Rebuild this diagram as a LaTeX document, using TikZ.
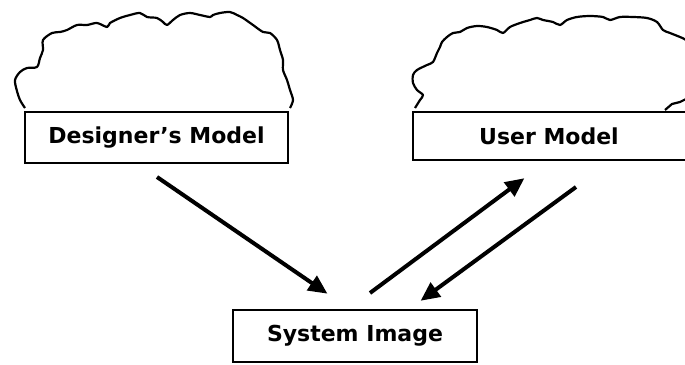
\documentclass[tikz,border=0pt]{standalone}
\usepackage{fontspec}
\setmainfont{DejaVu Sans}
\usetikzlibrary{arrows.meta}
\tikzset{
  modelfont/.style={font=\fontsize{22}{26}\selectfont\bfseries},
  modelbox/.style={draw, line width=2.4pt, fill=white, inner sep=0pt, modelfont},
  cloudline/.style={line width=2.2pt, line join=round},
  bigarrow/.style={line width=4pt, -{Triangle[length=19pt,width=17pt]}, shorten >=-3pt}
}
\begin{document}
\begin{tikzpicture}[x=1pt,y=-1pt]
\useasboundingbox (0,0) rectangle (685,364);
% clouds
\draw[cloudline] plot[smooth, tension=0.5] coordinates {
 (25,108) (20,100) (16.7,90) (15,80) (20,72) (27,68) (37,67) (40,58) (43,50) (43,40) (52,33) (60,32) (67,30) (77,25) (87,25) (97,23) (107,27) (110,23) (120,18) (130,15) (140,13) (147,17) (157,18) (163,22) (167,25) (173,20) (180,15) (190,13) (200,15) (210,17) (213,15) (220,13) (230,12) (237,15) (243,18) (253,25) (263,32) (270,33) (277,40) (280,50) (283,60) (283,70) (287,80) (290,90) (293,100) (290,108)};
\draw[cloudline] plot[smooth, tension=0.5] coordinates {
 (415,108) (420,100) (423,95) (417,90) (413,83) (413,75) (417,70) (427,65) (433,62) (437,53) (440,47) (442,42) (447,37) (453,33) (460,32) (467,28) (477,26) (487,27) (497,30) (503,33) (510,27) (520,23) (530,20) (537,18) (543,20) (553,22) (560,25) (567,20) (577,17) (590,16) (603,17) (610,20) (620,17) (633,17) (647,18) (657,22) (663,30) (670,33) (680,37) (686,40) (690,45)};
\draw[cloudline] (665,110) -- (672,104) -- (680,102) -- (688,98);
% boxes
\node[modelbox, minimum width=263pt, minimum height=51pt] (dm) at (156.5,137.5) {Designer's Model};
\node[modelbox, minimum width=290pt, minimum height=48pt] (um) at (558,136) {};
\node[modelfont] (umt) at (549,136) {User Model};
\node[modelbox, minimum width=244pt, minimum height=52pt] (si) at (355,336) {System Image};
% arrows
\coordinate (a1s) at (157,177);
\coordinate (a1e) at (325,292);
\coordinate (a2s) at (370,293);
\coordinate (a2e) at (522,180);
\coordinate (a3s) at (576,187);
\coordinate (a3e) at (423,299);
\draw[bigarrow] (a1s) -- (a1e);
\draw[bigarrow] (a2s) -- (a2e);
\draw[bigarrow] (a3s) -- (a3e);
\end{tikzpicture}
\end{document}
